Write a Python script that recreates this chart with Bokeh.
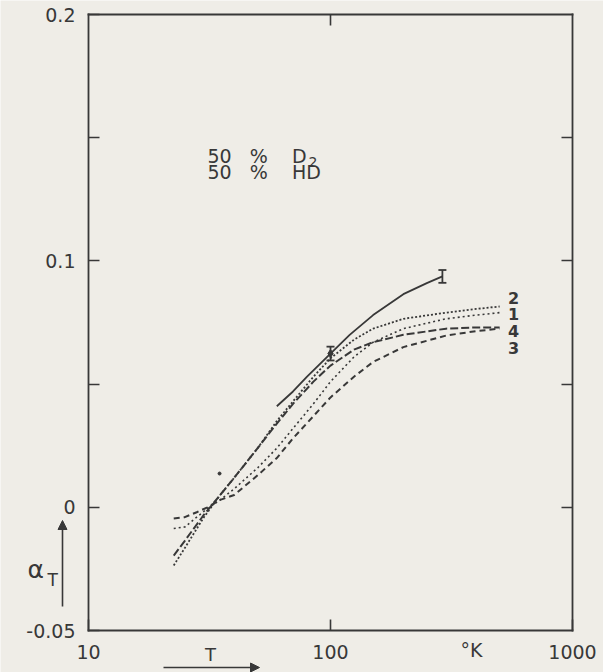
import math
from bokeh.plotting import figure
from bokeh.models import (FixedTicker, LinearAxis, LogAxis, Label, Arrow,
                          NormalHead, Whisker, TeeHead, ColumnDataSource)
from bokeh.embed import file_html
from bokeh.resources import INLINE

# ---- data (T in K, alpha_T) ----
T_curve1 = [22.5, 25, 28, 31, 35, 40, 50, 60, 70, 85, 100, 125, 150, 200, 300, 400, 500]
A_curve1 = [-0.0086, -0.0080, -0.0040, -0.0005, 0.0030, 0.0075, 0.0160, 0.0240, 0.0320,
            0.0420, 0.0510, 0.0610, 0.0670, 0.0725, 0.0765, 0.0780, 0.0790]

T_curve2 = [22.5, 25, 30, 35, 40, 50, 60, 70, 85, 100, 125, 150, 200, 300, 400, 500]
A_curve2 = [-0.0236, -0.0165, -0.0040, 0.0050, 0.0120, 0.0240, 0.0350, 0.0430, 0.0530,
            0.0605, 0.0680, 0.0725, 0.0765, 0.0790, 0.0805, 0.0815]

T_curve3 = [22.5, 25, 28, 31, 35, 40, 50, 60, 70, 85, 100, 125, 150, 200, 300, 400, 500]
A_curve3 = [-0.0045, -0.0040, -0.0020, 0.0000, 0.0030, 0.0050, 0.0130, 0.0200, 0.0280,
            0.0370, 0.0446, 0.0530, 0.0590, 0.0650, 0.0697, 0.0715, 0.0725]

T_curve4 = [22.5, 25, 30, 35, 40, 50, 60, 70, 85, 100, 125, 150, 200, 300, 400, 500]
A_curve4 = [-0.0196, -0.0136, -0.0030, 0.0050, 0.0120, 0.0240, 0.0340, 0.0420, 0.0510,
            0.0575, 0.0640, 0.0670, 0.0700, 0.0725, 0.0730, 0.0730]

T_exp = [60, 70, 80, 100, 120, 150, 200, 250, 290]
A_exp = [0.041, 0.047, 0.053, 0.0624, 0.070, 0.078, 0.0865, 0.091, 0.0937]

T_err = [100, 290]
A_err = [0.0624, 0.0937]
E_err = [0.0028, 0.0026]

T_dot = [34.8]
A_dot = [0.0137]

y_ticks = [-0.05, 0, 0.05, 0.1, 0.15, 0.2]
y_tick_labels = {-0.05: "-0.05", 0: "0", 0.05: " ", 0.1: "0.1", 0.15: " ", 0.2: "0.2"}
x_ticks = [10, 100, 1000]
x_tick_labels = {10: "10", 100: "100", 1000: "1000"}
curve_names = ["2", "1", "4", "3"]

BG = "#efede7"
INK = "#383838"
FONT = "DejaVu Sans"
NB = "\u00a0"

W, H = 603, 672
# pixel anchors of the axes box in the picture
PX_L, PX_R, PY_T, PY_B = 88, 572, 14, 630
XMIN, XMAX, YMIN, YMAX = 10.0, 1000.0, -0.05, 0.2
dec_per_px = (math.log10(XMAX) - math.log10(XMIN)) / (PX_R - PX_L)
val_per_px = (YMAX - YMIN) / (PY_B - PY_T)
x_range = (10 ** (math.log10(XMIN) - PX_L * dec_per_px),
           10 ** (math.log10(XMAX) + (W - PX_R) * dec_per_px))
y_range = (YMIN - (H - PY_B) * val_per_px, YMAX + PY_T * val_per_px)

p = figure(width=W, height=H, x_axis_type="log", x_range=x_range, y_range=y_range,
           x_axis_location=None, y_axis_location=None,
           output_backend="svg", toolbar_location=None,
           min_border_left=0, min_border_right=0, min_border_top=0, min_border_bottom=0,
           background_fill_color=BG, border_fill_color=BG)
p.xgrid.visible = False
p.ygrid.visible = False
p.outline_line_color = None


def style_axis(ax, labels=True):
    ax.axis_line_color = INK
    ax.axis_line_width = 1.8
    ax.axis_line_cap = "square"
    ax.major_tick_line_color = INK
    ax.major_tick_line_width = 1.6
    ax.major_tick_in = 11
    ax.major_tick_out = 0
    ax.minor_tick_line_color = None
    if labels:
        ax.major_label_text_font = FONT
        ax.major_label_text_font_size = "19px"
        ax.major_label_text_color = INK
    else:
        ax.major_label_text_font_size = "1px"
        ax.major_label_text_color = BG
        ax.major_label_standoff = 0


xa = LogAxis(fixed_location=YMIN, bounds=(XMIN, XMAX),
             ticker=FixedTicker(ticks=x_ticks), major_label_overrides=x_tick_labels)
style_axis(xa)
xa.major_label_standoff = 14
p.add_layout(xa, "below")

ta = LogAxis(fixed_location=YMAX, bounds=(XMIN, XMAX),
             ticker=FixedTicker(ticks=[100]), major_label_overrides={100: " "})
style_axis(ta, labels=False)
p.add_layout(ta, "above")

ya = LinearAxis(fixed_location=XMIN, bounds=(YMIN, YMAX),
                ticker=FixedTicker(ticks=y_ticks), major_label_overrides=y_tick_labels)
style_axis(ya)
ya.major_label_standoff = 13
p.add_layout(ya, "left")

ra = LinearAxis(fixed_location=XMAX, bounds=(YMIN, YMAX),
                ticker=FixedTicker(ticks=[0, 0.05, 0.1, 0.15]),
                major_label_overrides={0: " ", 0.05: " ", 0.1: " ", 0.15: " "})
style_axis(ra, labels=False)
p.add_layout(ra, "right")

# ---- curves ----
p.line(T_curve2, A_curve2, line_color=INK, line_width=1.8, line_dash="2 2")
p.line(T_curve1, A_curve1, line_color=INK, line_width=1.6, line_dash="2 3")
p.line(T_curve4, A_curve4, line_color=INK, line_width=2.0, line_dash="8 3")
p.line(T_curve3, A_curve3, line_color=INK, line_width=2.0, line_dash="6 4")
p.line(T_exp, A_exp, line_color=INK, line_width=1.8)

src = ColumnDataSource(data=dict(
    x=T_err,
    up=[a + e for a, e in zip(A_err, E_err)],
    lo=[a - e for a, e in zip(A_err, E_err)]))
p.add_layout(Whisker(source=src, base="x", upper="up", lower="lo",
                     dimension="height", line_color=INK, line_width=1.8,
                     upper_head=TeeHead(size=8, line_color=INK, line_width=1.8),
                     lower_head=TeeHead(size=8, line_color=INK, line_width=1.8)))
p.scatter([T_err[0]], [A_err[0]], marker="diamond", size=8, color=INK)
p.scatter(T_dot, A_dot, size=3, color=INK)


# ---- texts (positions in picture pixels, y measured from the top) ----
def lab(text, px, py, size, align="left", style="normal"):
    p.add_layout(Label(text=text, x=px, y=H - py, x_units="screen", y_units="screen",
                       text_font=FONT, text_font_size=size, text_color=INK,
                       text_align=align, text_baseline="middle", text_font_style=style))


lab("50" + NB * 3 + "%" + NB * 4 + "D", 207, 155, "19px")
lab("2", 308, 161, "14px")
lab("50" + NB * 3 + "%" + NB * 4 + "HD", 207, 171, "19px")

for name, py in zip(curve_names, [297, 313, 330, 347]):
    lab(name, 513, py, "16px", align="center", style="bold")

lab("α", 27, 569, "25px")
lab("T", 47, 579, "17px")
lab("T", 210, 654, "18px", align="center")
lab("°K", 471, 649, "19px", align="center")

head = dict(size=9, fill_color=INK, line_color=INK)
p.add_layout(Arrow(x_start=62, y_start=H - 606, x_end=62, y_end=H - 520,
                   start_units="screen", end_units="screen",
                   end=NormalHead(**head), line_color=INK, line_width=1.6))
p.add_layout(Arrow(x_start=163, y_start=H - 667, x_end=259, y_end=H - 667,
                   start_units="screen", end_units="screen",
                   end=NormalHead(**head), line_color=INK, line_width=1.6))

open("out.html", "w").write(file_html(p, INLINE))
